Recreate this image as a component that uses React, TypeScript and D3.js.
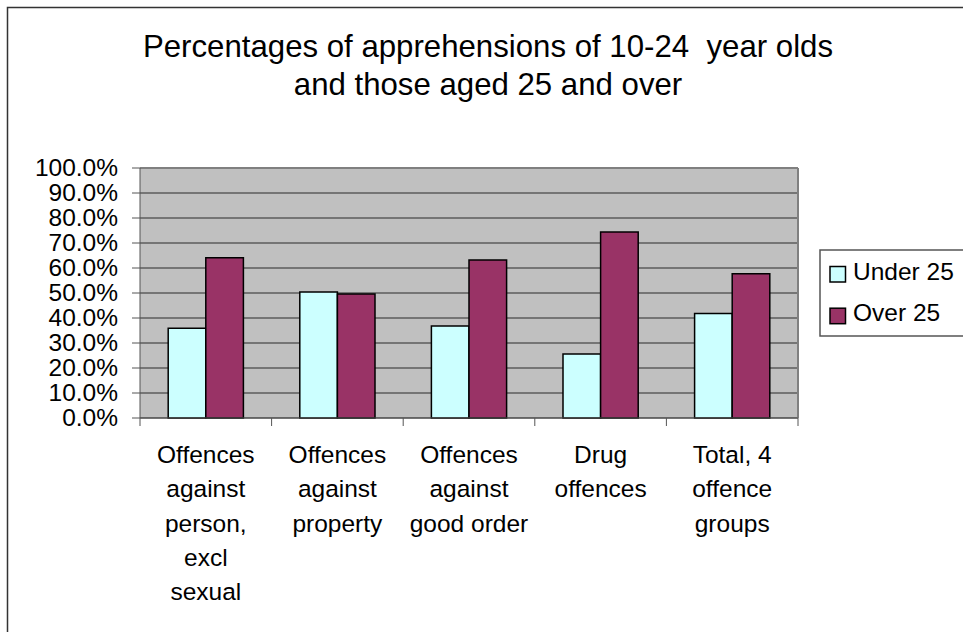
import React from "react";
import * as d3 from "d3";

const categories = ["person", "property", "goodorder", "drug", "total"];
const categoryLabels: string[][] = [
  ["Offences", "against", "person,", "excl", "sexual"],
  ["Offences", "against", "property"],
  ["Offences", "against", "good order"],
  ["Drug", "offences"],
  ["Total, 4", "offence", "groups"],
];
const seriesNames = ["Under 25", "Over 25"];
const under25 = [35.9, 50.4, 36.8, 25.6, 41.8];
const over25 = [64.1, 49.6, 63.2, 74.4, 57.7];
const yTicks = [0, 10, 20, 30, 40, 50, 60, 70, 80, 90, 100];
const titleLines = [
  "Percentages of apprehensions of 10-24\u00a0\u00a0year olds",
  "and those aged 25 and over",
];
const seriesColors = ["#CCFFFF", "#993366"];

const W = 963;
const H = 632;
const plot = { left: 140, right: 798, top: 168, bottom: 418 };
const FONT = "'Liberation Sans', Arial, sans-serif";

export default function App() {
  const y = d3.scaleLinear().domain([0, 100]).range([plot.bottom, plot.top]);
  const xCat = d3.scaleBand<string>().domain(categories).range([plot.left, plot.right]).padding(0);
  const x0 = d3
    .scaleBand<string>()
    .domain(categories)
    .range([plot.left, plot.right])
    .paddingInner(1.5 / 3.5)
    .paddingOuter(0.75 / 3.5);
  const x1 = d3.scaleBand<string>().domain(seriesNames).range([0, x0.bandwidth()]).padding(0);
  const values = [under25, over25];
  const fmt = (v: number) => d3.format(".1f")(v) + "%";
  const boundaries = [...categories.map((c) => xCat(c)!), plot.right];

  return (
    <svg
      width={W}
      height={H}
      style={{ position: "absolute", left: 0, top: 0, background: "#fff" }}
      fontFamily={FONT}
    >
      {/* outer chart border (extends beyond right/bottom edge) */}
      <rect x={7.5} y={7.5} width={W + 20} height={H + 20} fill="#fff" stroke="#333" strokeWidth={1.5} />

      {/* title */}
      {titleLines.map((t, i) => (
        <text key={i} x={488} y={57 + i * 37.7} fontSize={31.2} textAnchor="middle" fill="#000">
          {t}
        </text>
      ))}

      {/* plot background */}
      <rect x={plot.left} y={plot.top} width={plot.right - plot.left} height={plot.bottom - plot.top} fill="#C0C0C0" />

      {/* gridlines */}
      {yTicks.map((t) => (
        <line key={t} x1={plot.left} x2={plot.right} y1={y(t)} y2={y(t)} stroke="#2a2a2a" strokeWidth={1} />
      ))}

      {/* plot border top/right */}
      <line x1={plot.left} x2={plot.right} y1={plot.top} y2={plot.top} stroke="#808080" strokeWidth={2} />
      <line x1={plot.right} x2={plot.right} y1={plot.top} y2={plot.bottom} stroke="#808080" strokeWidth={2} />

      {/* bars */}
      {categories.map((c, ci) =>
        seriesNames.map((s, si) => {
          const v = values[si][ci];
          const bx = x0(c)! + x1(s)!;
          return (
            <rect
              key={c + s}
              x={bx}
              y={y(v)}
              width={x1.bandwidth()}
              height={y(0) - y(v)}
              fill={seriesColors[si]}
              stroke="#000"
              strokeWidth={1.5}
            />
          );
        })
      )}

      {/* axes */}
      <line x1={plot.left} x2={plot.left} y1={plot.top} y2={plot.bottom} stroke="#555" strokeWidth={1} />
      <line x1={plot.left} x2={plot.right} y1={plot.bottom} y2={plot.bottom} stroke="#555" strokeWidth={1} />

      {/* y ticks & labels */}
      {yTicks.map((t) => (
        <g key={t}>
          <line x1={plot.left - 8} x2={plot.left} y1={y(t)} y2={y(t)} stroke="#555" strokeWidth={1} />
          <text x={118} y={y(t) + 7.5} fontSize={24.5} textAnchor="end" fill="#000">
            {fmt(t)}
          </text>
        </g>
      ))}

      {/* x ticks */}
      {boundaries.map((bx, i) => (
        <line key={i} x1={bx} x2={bx} y1={plot.bottom} y2={plot.bottom + 8} stroke="#555" strokeWidth={1} />
      ))}

      {/* category labels */}
      {categories.map((c, ci) => (
        <text key={c} fontSize={24.5} textAnchor="middle" fill="#000">
          {categoryLabels[ci].map((line, li) => (
            <tspan key={li} x={xCat(c)! + xCat.bandwidth() / 2} y={463 + li * 34.3}>
              {line}
            </tspan>
          ))}
        </text>
      ))}

      {/* legend */}
      <rect x={820} y={250} width={160} height={86} fill="#fff" stroke="#555" strokeWidth={1.5} />
      {seriesNames.map((s, i) => (
        <g key={s}>
          <rect x={830} y={266.5 + i * 41.7} width={15.5} height={15.5} fill={seriesColors[i]} stroke="#000" strokeWidth={1.5} />
          <text x={853} y={279.5 + i * 41.7} fontSize={24.5} fill="#000">
            {s}
          </text>
        </g>
      ))}
    </svg>
  );
}
